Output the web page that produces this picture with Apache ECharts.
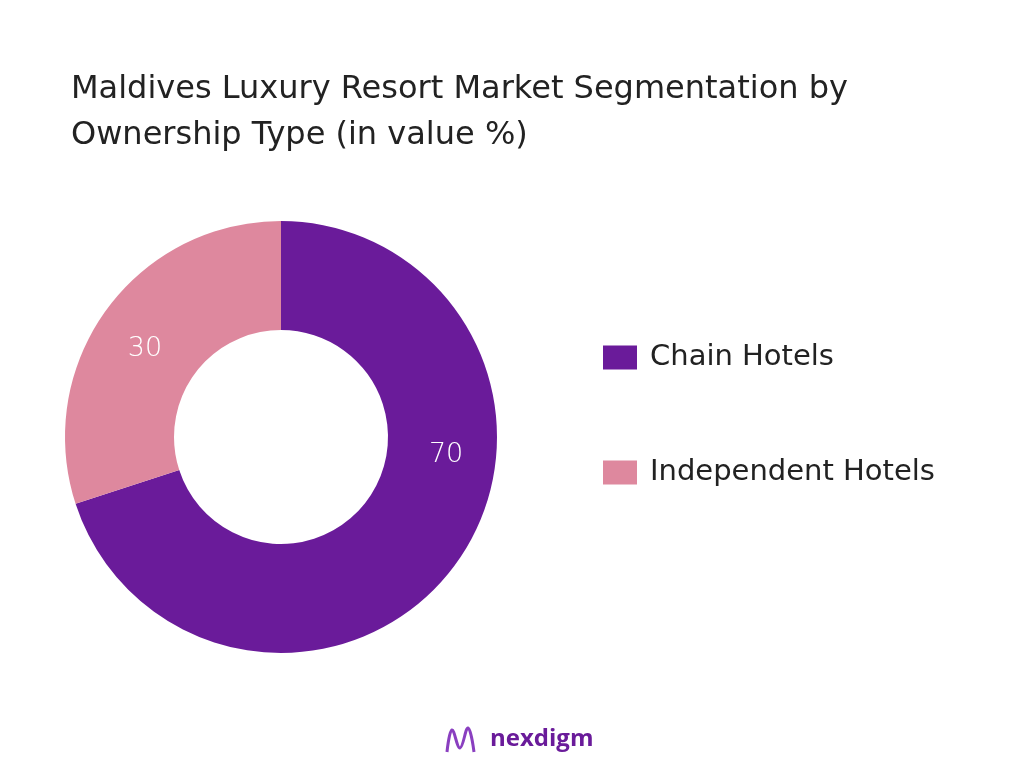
<!DOCTYPE html>
<html><head><meta charset="utf-8">
<script src="https://cdn.jsdelivr.net/npm/echarts@6/dist/echarts.min.js"></script>
<style>html,body{margin:0;padding:0;background:#fff}#c{width:1024px;height:768px}</style>
</head><body><div id="c"></div>
<script>
const categories = ["Chain Hotels", "Independent Hotels"];
const values = [70, 30];
const colors = ["#6a1b9a", "#de889e"];
const labelOffsets = [[32, -79], [-3, 9]];
const chart = echarts.init(document.getElementById('c'));
chart.setOption({
  backgroundColor: '#fff',
  title: {
    text: 'Maldives Luxury Resort Market Segmentation by\nOwnership Type (in value %)',
    left: 66, top: 62,
    textStyle: {fontFamily: 'DejaVu Sans', fontSize: 32, fontWeight: 'normal', color: '#222', lineHeight: 46}
  },
  legend: {
    orient: 'vertical', left: 598, top: 338, itemGap: 86, icon: 'rect',
    itemWidth: 34, itemHeight: 24,
    textStyle: {fontFamily: 'DejaVu Sans', fontSize: 29, color: '#222', padding: [0,0,0,8]},
    data: categories
  },
  series: [{
    type: 'pie', center: [281, 437], radius: [107, 216],
    startAngle: 90, clockwise: true,
    label: {position: 'inside', color: '#fff', fontFamily: 'DejaVu Sans', fontSize: 27, fontWeight: 200, formatter: '{c}'},
    labelLine: {show: false},
    emphasis: {disabled: true},
    data: categories.map((n, i) => ({name: n, value: values[i], itemStyle: {color: colors[i]}, label: {offset: labelOffsets[i]}}))
  }],
  graphic: [
    {type: 'text', left: 490, top: 727, style: {text: 'nexdigm', fontFamily: 'Open Sans', fontSize: 24, fontWeight: 'bold', fill: '#6a1b9a'}},
    {type: 'polyline', shape: {points: [[447,752],[452,730],[460,748],[468,728],[474,752]], smooth: 0.4}, style: {stroke: '#8a3fc0', lineWidth: 3, fill: null}}
  ]
});
</script></body></html>
